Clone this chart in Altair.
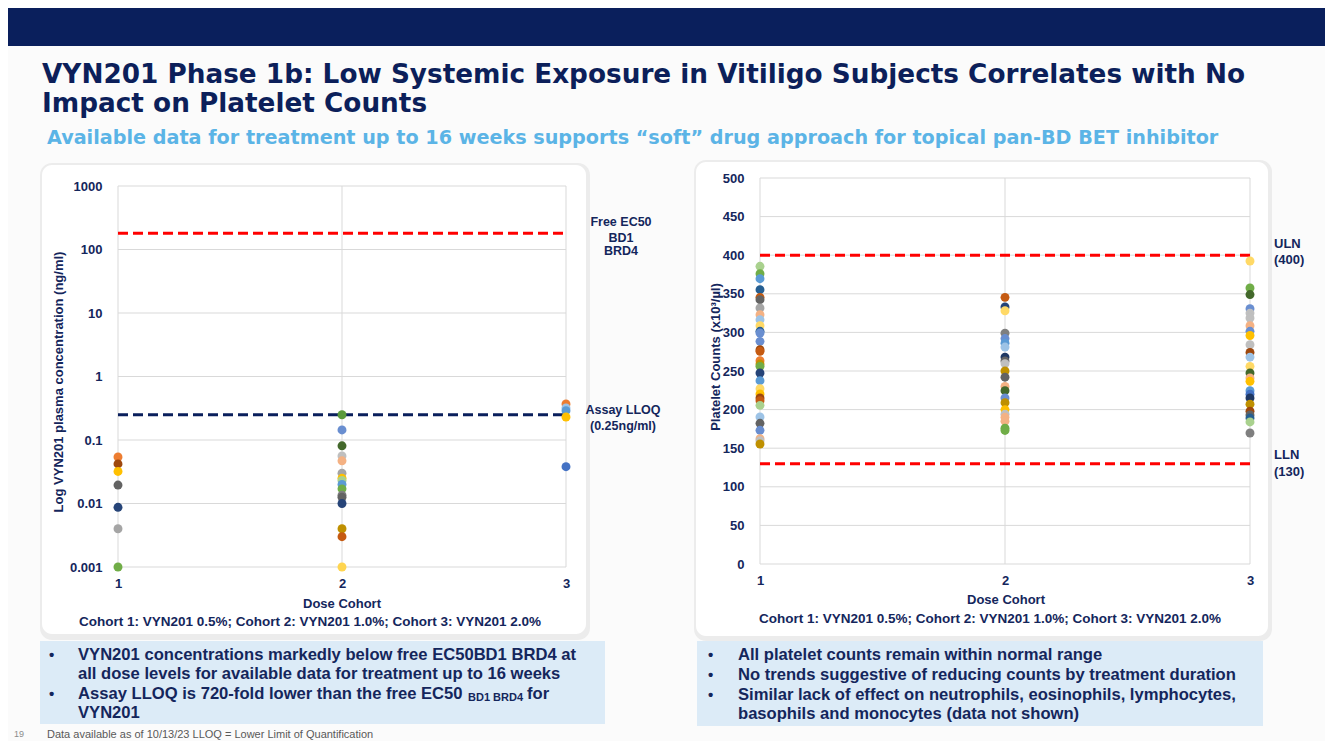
import altair as alt
import pandas as pd

# ---------------- chart data ----------------
cohort_ticks = [1, 2, 3]
log_ticks = [0.001, 0.01, 0.1, 1, 10, 100, 1000]
platelet_ticks = [0, 50, 100, 150, 200, 250, 300, 350, 400, 450, 500]

free_ec50 = 180.0      # ng/ml
assay_lloq = 0.25      # ng/ml
uln = 400
lln = 130

# VYN201 plasma concentration (ng/ml) per subject, and subject colour tone
pk_c1 = [0.054, 0.042, 0.032, 0.0195, 0.0087, 0.004, 0.001]
pk_c1_tone = ["orange", "brown", "gold", "dkgrey", "dkblue", "grey", "green"]
pk_c2 = [0.25, 0.144, 0.081, 0.056, 0.047, 0.030, 0.025, 0.023, 0.020, 0.017,
         0.0135, 0.0125, 0.010, 0.004, 0.003, 0.001]
pk_c2_tone = ["midgreen", "blue2", "dkgreen", "grey2", "orange2", "grey", "gold",
              "green2", "ltblue", "green", "midgrey", "dkgrey", "dkblue", "dkgold",
              "dkorange", "ltgold"]
pk_c3 = [0.37, 0.32, 0.29, 0.23, 0.038]
pk_c3_tone = ["orange", "ltblue2", "ltblue", "gold", "blue"]

# Platelet counts (x10^3/ul)
plt_c1 = [385.6, 376, 369.6, 355.4, 345.4, 342.4, 331.6, 323, 316.5, 308.7, 301.4,
          299.2, 288.4, 277.6, 275.5, 263.4, 259, 256, 247.4, 237.5, 227.1, 220.2,
          215, 211.6, 205.5, 190.4, 182.2, 173.2, 162.4, 159.8, 155.4]
plt_c1_tone = ["green2", "green", "ltblue", "dkltblue", "dkorange", "dkgrey", "grey",
               "orange2", "ltblue2", "gold2", "dkltblue", "blue2", "blue2", "brown",
               "dkorange", "orange", "dkgold", "green", "dkblue", "ltblue", "gold2",
               "gold", "brown", "dkorange", "green2", "ltblue2", "dkgrey", "blue2",
               "orange2", "grey2", "dkgold"]
plt_c2 = [345.4, 333, 328, 299, 292, 286, 281, 268, 263, 259.5, 250, 242, 230,
          224.5, 215, 209, 200, 194, 190, 185, 176, 173]
plt_c2_tone = ["dkorange", "dkblue", "gold2", "midgrey", "blue2", "ltblue", "ltblue2",
               "navy", "dkgrey", "grey2", "dkgold", "dkgrey", "orange2", "dkgreen",
               "blue2", "dkgold", "gold", "grey2", "orange2", "orange2", "green", "green"]
plt_c3 = [392.5, 357.5, 349, 330.7, 325, 318.7, 308.7, 301.4, 296, 284, 274, 268,
          256, 247.4, 241, 236.6, 224.5, 220, 215, 207, 198, 193, 189, 184, 169.7]
plt_c3_tone = ["gold2", "green", "dkgreen", "blue2", "grey2", "grey2", "orange2",
               "blue2", "gold", "grey2", "brown", "ltblue2", "gold2", "dkgreen",
               "orange2", "gold", "ltblue", "blue", "navy", "dkgold", "brown",
               "dkgrey", "dkltblue", "green2", "midgrey"]

# ---------------- styles ----------------
palette = {
    "orange": "#ED7D31", "brown": "#9E480E", "gold": "#FFC000", "dkgrey": "#636363",
    "dkblue": "#264478", "grey": "#A5A5A5", "green": "#70AD47", "midgreen": "#5A9A3C",
    "blue2": "#698ED0", "dkgreen": "#43682B", "grey2": "#BFBFBF", "orange2": "#F4B183",
    "green2": "#A9D18E", "ltblue": "#5B9BD5", "dkgold": "#BF9000", "dkorange": "#C55A11",
    "ltgold": "#FFD54F", "ltblue2": "#9DC3E6", "blue": "#4472C4", "dkltblue": "#255E91",
    "gold2": "#FFD966", "navy": "#1F3864", "midgrey": "#7F7F7F",
}
HEADER = "#0a1f5c"
TITLE = "#0c1f5a"
SUB = "#5bb4e6"
NAVY = "#14265c"
GRID = "#d9d9d9"
BOX = "#dcebf7"
SANS = "Liberation Sans"
VERD = "DejaVu Sans"

W, H = 1317, 733


def px(v):
    """reference page pixel -> chart pixel (page has an 8px margin)"""
    return v - 8


def frame(groups):
    rows = []
    for c, vals, tones in groups:
        for v, t in zip(vals, tones):
            rows.append({"cohort": c, "value": v, "tone": t})
    return pd.DataFrame(rows)


pk_df = frame([(1, pk_c1, pk_c1_tone), (2, pk_c2, pk_c2_tone), (3, pk_c3, pk_c3_tone)])
plt_df = frame([(1, plt_c1, plt_c1_tone), (2, plt_c2, plt_c2_tone), (3, plt_c3, plt_c3_tone)])

color_scale = alt.Scale(domain=list(palette.keys()), range=list(palette.values()))


def ax(**kw):
    base = dict(grid=False, domain=False, ticks=False, zindex=1, tickCount=40,
                tickSize=0, labelFont=SANS, labelFontSize=13, labelFontWeight="bold",
                labelColor=NAVY, title=None, labelFlush=False, labelOverlap=False)
    base.update(kw)
    return alt.Axis(**base)


def one():
    return pd.DataFrame({"a": [0]})


def T(s, x, y, size=12.5, color=NAVY, weight="bold", font=SANS, align="left", angle=0):
    return alt.Chart(pd.DataFrame({"t": [s]})).mark_text(
        align=align, baseline="middle", fontSize=size, font=font, fontWeight=weight,
        color=color, angle=angle
    ).encode(x=alt.value(px(x)), y=alt.value(px(y)), text="t:N")


def R(x1, y1, x2, y2, **kw):
    return alt.Chart(one()).mark_rect(**kw).encode(
        x=alt.value(px(x1)), x2=alt.value(px(x2)), y=alt.value(px(y1)), y2=alt.value(px(y2)))


def panel(df, xs, ys, xaxis, yaxis, yticks, ydom, lines):
    """grid lines, horizontal reference lines (cohort 1 -> 3) and subject points"""
    layers = []
    hg = pd.DataFrame({"cohort": [1] * len(yticks), "end": [3] * len(yticks), "value": yticks})
    layers.append(alt.Chart(hg).mark_rule(color=GRID, strokeWidth=1).encode(
        x=alt.X("cohort:Q", scale=xs, axis=xaxis), x2="end:Q",
        y=alt.Y("value:Q", scale=ys, axis=yaxis)))
    vg = pd.DataFrame({"cohort": cohort_ticks, "value": [ydom[0]] * 3, "end": [ydom[1]] * 3})
    layers.append(alt.Chart(vg).mark_rule(color=GRID, strokeWidth=1).encode(
        x=alt.X("cohort:Q", scale=xs, axis=xaxis),
        y=alt.Y("value:Q", scale=ys, axis=yaxis), y2="end:Q"))
    for val, col in lines:
        d = pd.DataFrame({"cohort": [1], "end": [3], "value": [val]})
        layers.append(
            alt.Chart(d).mark_rule(color=col, strokeWidth=3, strokeDash=[10, 5]).encode(
                x=alt.X("cohort:Q", scale=xs, axis=xaxis), x2="end:Q",
                y=alt.Y("value:Q", scale=ys, axis=yaxis)))
    layers.append(
        alt.Chart(df).mark_circle(size=80, opacity=1).encode(
            x=alt.X("cohort:Q", scale=xs, axis=xaxis),
            y=alt.Y("value:Q", scale=ys, axis=yaxis),
            color=alt.Color("tone:N", scale=color_scale, legend=None)))
    return alt.layer(*layers)


# ---------------- left panel: PK (log scale) ----------------
Lx = alt.Scale(domain=[1, 3], range=[px(118), px(566)], nice=False, zero=False)
Ly = alt.Scale(type="log", domain=[0.001, 1000], range=[px(567), px(186)], nice=False)
left_panel = panel(
    pk_df, Lx, Ly,
    ax(orient="bottom", offset=px(567) - H, values=cohort_ticks, tickMinStep=0.25,
       labelExpr="toString(datum.value)", labelPadding=10),
    ax(orient="left", offset=-px(118), values=log_ticks, format="~g", labelPadding=16),
    log_ticks, [0.001, 1000],
    [(free_ec50, "#ff0000"), (assay_lloq, HEADER)],
)

# ---------------- right panel: platelets ----------------
Rx = alt.Scale(domain=[1, 3], range=[px(760), px(1250)], nice=False, zero=False)
Ry = alt.Scale(domain=[0, 500], range=[px(564), px(178)], nice=False, zero=False)
right_panel = panel(
    plt_df, Rx, Ry,
    ax(orient="bottom", offset=px(564) - H, values=cohort_ticks, tickMinStep=0.25,
       labelExpr="toString(datum.value)", labelPadding=10),
    ax(orient="left", offset=-px(760), values=platelet_ticks, format="d", labelPadding=16),
    platelet_ticks, [0, 500],
    [(uln, "#ff0000"), (lln, "#ff0000")],
)

# ---------------- slide furniture ----------------
decor = [
    R(0, 0, 1333, 46, color=HEADER),
    # card shadows
    R(40, 163, 590, 640, color="#ececec", cornerRadius=12),
    R(694, 160, 1272, 641, color="#ececec", cornerRadius=12),
    R(42, 165, 586, 634, color="#ffffff", cornerRadius=10),
    R(696, 162, 1268, 636, color="#ffffff", cornerRadius=10),
    # text boxes
    R(40, 641, 605, 724, color=BOX),
    R(697, 641, 1263, 726, color=BOX),
]

BS = 16.6
texts = [
    T("VYN201 Phase 1b: Low Systemic Exposure in Vitiligo Subjects Correlates with No",
      42, 75, size=26.3, color=TITLE, font=VERD),
    T("Impact on Platelet Counts", 42, 104, size=26.3, color=TITLE, font=VERD),
    T("Available data for treatment up to 16 weeks supports \u201csoft\u201d drug approach for topical pan-BD BET inhibitor",
      47, 138, size=19.2, color=SUB, font=VERD),
    # left panel titles
    T("Log VYN201 plasma concentration (ng/ml)", 59, 382, size=13, align="center", angle=270),
    T("Dose Cohort", 342, 604, size=13, align="center"),
    T("Cohort 1: VYN201 0.5%; Cohort 2: VYN201 1.0%; Cohort 3: VYN201 2.0%", 310, 622,
      size=13.5, align="center"),
    # right panel titles
    T("Platelet Counts (x10\u00b3/\u00b5l)", 716, 357, size=13, align="center", angle=270),
    T("Dose Cohort", 1006, 600, size=13, align="center"),
    T("Cohort 1: VYN201 0.5%; Cohort 2: VYN201 1.0%; Cohort 3: VYN201 2.0%", 990, 619,
      size=13.5, align="center"),
    # annotations
    T("Free EC50", 621, 222, align="center"),
    T("BD1", 621, 238, align="center"),
    T("BRD4", 621, 251, align="center"),
    T("Assay LLOQ", 623, 410, align="center"),
    T("(0.25ng/ml)", 623, 426, align="center"),
    T("ULN", 1274, 244, size=13),
    T("(400)", 1274, 260, size=13),
    T("LLN", 1274, 455, size=13),
    T("(130)", 1274, 472, size=13),
    # bullets left
    T("\u2022", 49, 655, size=15),
    T("VYN201 concentrations markedly below free EC50BD1 BRD4 at", 78, 655, size=BS),
    T("all dose levels for available data for treatment up to 16 weeks", 78, 674, size=BS),
    T("\u2022", 49, 694, size=15),
    T("Assay LLOQ is 720-fold lower than the free EC50", 78, 694, size=BS),
    T("BD1 BRD4", 468, 698, size=11),
    T("for", 527, 694, size=BS),
    T("VYN201", 78, 713, size=BS),
    # bullets right
    T("\u2022", 708, 655, size=15),
    T("All platelet counts remain within normal range", 738, 655, size=BS),
    T("\u2022", 708, 675, size=15),
    T("No trends suggestive of reducing counts by treatment duration", 738, 675, size=BS),
    T("\u2022", 708, 695, size=15),
    T("Similar lack of effect on neutrophils, eosinophils, lymphocytes,", 738, 695, size=BS),
    T("basophils  and monocytes (data not shown)", 738, 714, size=BS),
    # footer
    T("19", 19, 734, size=9, color="#8c8c8c", weight="normal", align="center"),
    T("Data available as of 10/13/23  LLOQ = Lower Limit of Quantification", 47, 735,
      size=11, color="#595959", weight="normal"),
]

chart = alt.layer(*decor, left_panel, right_panel, *texts).resolve_scale(
    x="independent", y="independent"
).properties(
    width=W, height=H, padding=0, autosize=alt.AutoSizeParams(type="none"),
    background="#fbfbfb"
).configure_view(stroke=None)

chart.save("out.html", embed_options={"renderer": "svg", "actions": False})
